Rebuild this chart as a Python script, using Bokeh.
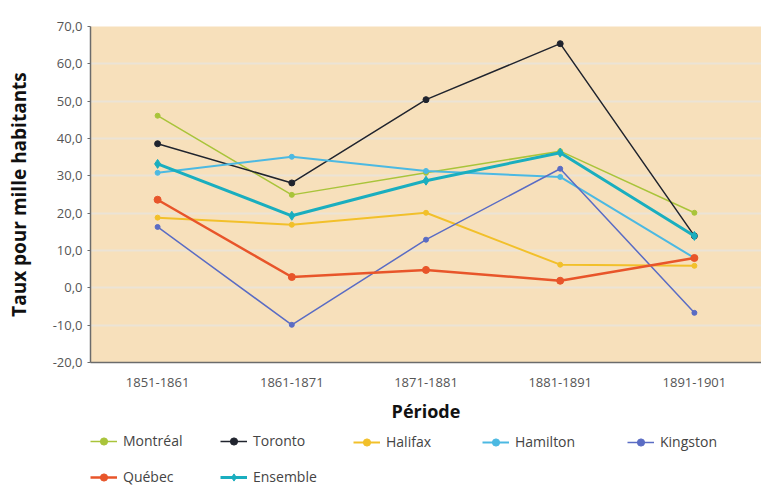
from bokeh.plotting import figure
from bokeh.layouts import column
from bokeh.models import FixedTicker, Legend, LegendItem
from bokeh.embed import file_html
from bokeh.resources import INLINE

periods = ["1851-1861", "1861-1871", "1871-1881", "1881-1891", "1891-1901"]
montreal = [46.1, 24.9, 30.8, 36.6, 20.1]
toronto = [38.6, 28.1, 50.4, 65.4, 13.9]
halifax = [18.8, 16.9, 20.1, 6.2, 5.9]
hamilton = [30.8, 35.1, 31.3, 29.7, 8.0]
kingston = [16.3, -9.9, 12.9, 31.9, -6.7]
quebec = [23.6, 2.9, 4.8, 1.9, 8.0]
ensemble = [33.2, 19.3, 28.7, 36.2, 13.9]
y_ticks = [-20, -10, 0, 10, 20, 30, 40, 50, 60, 70]

series = [
    ("Montréal", montreal, "#a9c43a", 1.5, "circle", 5),
    ("Toronto", toronto, "#20242e", 1.5, "circle", 6),
    ("Halifax", halifax, "#f2c02a", 2, "circle", 5),
    ("Hamilton", hamilton, "#4cb9e2", 2, "circle", 5),
    ("Kingston", kingston, "#5a6cc4", 1.5, "circle", 5),
    ("Québec", quebec, "#e8552a", 2.5, "circle", 7),
    ("Ensemble", ensemble, "#1aaebf", 3, "diamond", 9),
]

p = figure(x_range=periods, y_range=(-20, 70), width=761, height=425,
           output_backend="svg", toolbar_location=None,
           min_border_left=90, min_border_right=0, min_border_top=26,
           min_border_bottom=63)

p.background_fill_color = "#f7e0bb"
p.border_fill_color = "white"
p.outline_line_color = None
p.xgrid.grid_line_color = None
p.ygrid.grid_line_color = "#ebe3d6"
p.ygrid.grid_line_width = 2

lf = figure(x_range=periods, y_range=(-20, 70), width=761, height=61,
            output_backend="svg", toolbar_location=None,
            x_axis_location=None, y_axis_location=None,
            min_border_left=0, min_border_right=0, min_border_top=0,
            min_border_bottom=0, outline_line_color=None)
lf.grid.visible = False
lf.background_fill_color = "white"
lf.border_fill_color = "white"

items = {}
for name, vals, color, lw, marker, ms in series:
    p.line(periods, vals, line_color=color, line_width=lw)
    p.scatter(periods, vals, marker=marker, size=ms, fill_color=color, line_color=color)
    l1 = lf.line(periods, vals, line_color=color, line_width=lw, visible=False)
    l2 = lf.scatter(periods, vals, marker=marker, size=ms, fill_color=color,
                    line_color=color, visible=False)
    items[name] = LegendItem(label=name, renderers=[l1, l2])

p.yaxis.ticker = FixedTicker(ticks=y_ticks)
p.yaxis.major_label_overrides = {t: f"{t},0" for t in y_ticks}
p.yaxis.axis_label = "Taux pour mille habitants"
p.xaxis.axis_label = "Période"
for ax in (p.xaxis[0], p.yaxis[0]):
    ax.axis_line_color = "#6b6b6b"
    ax.axis_line_width = 1.5
    ax.major_label_text_font = "Open Sans"
    ax.major_label_text_font_size = "13px"
    ax.major_label_text_color = "#555555"
    ax.axis_label_text_font = "Open Sans"
    ax.axis_label_text_font_style = "bold"
    ax.axis_label_text_color = "#111111"
    ax.minor_tick_line_color = None
p.xaxis.axis_label_text_font_size = "18px"
p.yaxis.axis_label_text_font_size = "19px"
p.yaxis.major_tick_line_color = "#6b6b6b"
p.yaxis.major_tick_out = 3
p.yaxis.major_tick_in = 0
p.yaxis.major_label_standoff = 5
p.xaxis.major_tick_line_color = None
p.xaxis.major_label_standoff = 9
p.xaxis.axis_label_standoff = 9
p.yaxis.axis_label_standoff = 18

columns = [
    (["Montréal", "Québec"], 0, 0),
    (["Toronto", "Ensemble"], 130, 0),
    (["Halifax"], 263, 35),
    (["Hamilton"], 392, 35),
    (["Kingston"], 537, 35),
]
for names, lx, ly in columns:
    lg = Legend(items=[items[n] for n in names], location=(lx, ly),
                orientation="vertical",
                label_text_font="Open Sans", label_text_font_size="14px",
                label_text_color="#444444", glyph_width=27, glyph_height=18,
                label_height=18, spacing=17, label_standoff=6, padding=0,
                margin=0, border_line_color=None, background_fill_alpha=0,
                inactive_fill_alpha=0)
    lf.add_layout(lg, "center")

layout = column(p, lf, spacing=0)
open("out.html", "w").write(file_html(layout, INLINE))
